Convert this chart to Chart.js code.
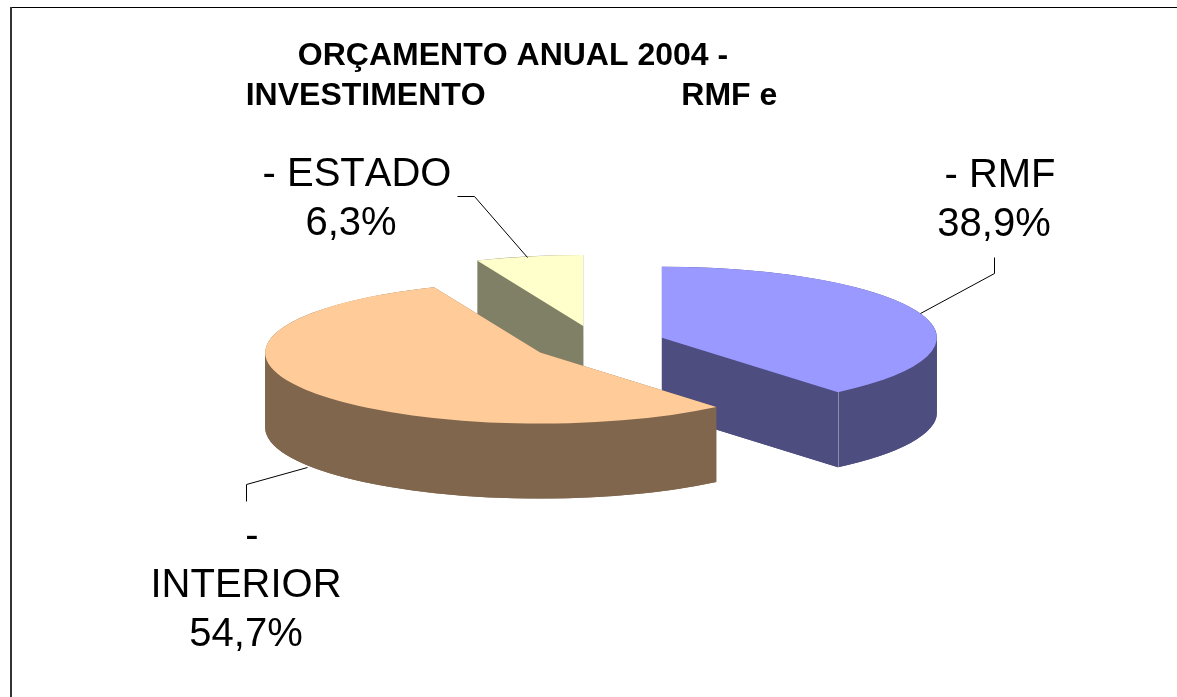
<!DOCTYPE html>
<html lang="pt">
<head>
<meta charset="utf-8">
<title>Orçamento anual 2004</title>
<style>html,body{margin:0;padding:0;background:#fff;overflow:hidden}canvas{display:block}</style>
<script src="https://cdn.jsdelivr.net/npm/chart.js@4/dist/chart.umd.min.js"></script>
</head>
<body>
<canvas id="c" width="1177" height="697"></canvas>
<script>
const titleLines = ['ORÇAMENTO ANUAL 2004 -', 'INVESTIMENTO                      RMF e'];
const categories = ['RMF', 'INTERIOR', 'ESTADO'];
const values = [38.9, 54.7, 6.3];
const topColors = ['#9999FF', '#FFCC99', '#FFFFCC'];
const wallColors = ['#4D4D80', '#80664D', '#808066'];

const SQUASH = 0.258, DEPTH = 75, CENTER_Y = 343.7;
const explode = [69, 66.5, 70];
const paintOrder = [2, 0, 1];
const seamEdges = ['endAngle', null, 'startAngle'];
const labelLayout = [
  [[1000, 187], [994, 236]],
  [[252, 548], [246, 597], [246, 646]],
  [[357, 186], [351, 235]]
];
const leaders = [
  [[994, 257], [994, 273], [920, 313]],
  [[246, 501], [246, 484], [307, 467]],
  [[457, 196], [474, 196], [527, 257]]
];
const pct = v => v.toFixed(1).replace('.', ',') + '%';
const labelLines = i => {
  const n = '- ' + categories[i];
  return labelLayout[i].length === 3 ? ['-', categories[i], pct(values[i])] : [n, pct(values[i])];
};

function drawWalls(c, x, y, R, a, b, color) {
  const r = R * SQUASH;
  c.fillStyle = color;
  c.beginPath();
  c.moveTo(x, y + DEPTH);
  c.ellipse(x, y + DEPTH, R, r, 0, a, b);
  c.closePath();
  c.fill();
  const stops = [a];
  for (let k = Math.ceil(a / Math.PI); k * Math.PI < b; k++) {
    if (k * Math.PI > a) stops.push(k * Math.PI);
  }
  stops.push(b);
  for (let s = 0; s < stops.length - 1; s++) {
    c.beginPath();
    c.ellipse(x, y, R, r, 0, stops[s], stops[s + 1]);
    c.ellipse(x, y + DEPTH, R, r, 0, stops[s + 1], stops[s], true);
    c.closePath();
    c.fill();
  }
  [a, b].forEach(t => {
    const ex = x + Math.cos(t) * R, ey = y + Math.sin(t) * r;
    c.beginPath();
    c.moveTo(x, y);
    c.lineTo(ex, ey);
    c.lineTo(ex, ey + DEPTH);
    c.lineTo(x, y + DEPTH);
    c.closePath();
    c.fill();
  });
}

const pie3d = {
  id: 'pie3d',
  beforeDraw(chart) {
    const c = chart.ctx;
    c.save();
    c.fillStyle = '#fff';
    c.fillRect(0, 0, chart.width, chart.height);
    c.fillStyle = '#000';
    c.fillRect(10, 7, chart.width - 10, 1);
    c.fillStyle = '#333';
    c.fillRect(10, 7, 2, chart.height - 7);
    c.restore();
  },
  beforeDatasetsDraw(chart) {
    const c = chart.ctx, arcs = chart.getDatasetMeta(0).data;
    const cy = arcs[0].y;
    paintOrder.forEach(i => {
      const arc = arcs[i];
      const mid = (arc.startAngle + arc.endAngle) / 2;
      const ox = Math.cos(mid) * explode[i];
      const oy = CENTER_Y + Math.sin(mid) * explode[i] * SQUASH;
      c.save();
      drawWalls(c, arc.x + ox, oy, arc.outerRadius, arc.startAngle, arc.endAngle, wallColors[i]);
      if (seamEdges[i]) {
        const a = arc[seamEdges[i]];
        const sx = Math.round(arc.x + ox + Math.cos(a) * arc.outerRadius) + .5;
        const sy = oy + Math.sin(a) * arc.outerRadius * SQUASH;
        c.strokeStyle = 'rgba(255,255,255,0.35)';
        c.lineWidth = 1;
        c.beginPath();
        c.moveTo(sx, sy);
        c.lineTo(sx, sy + DEPTH);
        c.stroke();
      }
      c.restore();
      c.save();
      c.translate(ox, oy);
      c.scale(1, SQUASH);
      c.translate(0, -cy);
      arc.draw(c);
      c.restore();
    });
    return false;
  },
  afterDraw(chart) {
    const c = chart.ctx;
    c.save();
    c.fontKerning = 'none';
    c.fillStyle = '#000';
    c.textAlign = 'center';
    c.textBaseline = 'alphabetic';
    c.font = 'bold 32px "Liberation Sans", Arial, sans-serif';
    c.fillText(titleLines[0], 513, 65);
    c.fillText(titleLines[1], 511.5, 105);
    c.font = '40px "Liberation Sans", Arial, sans-serif';
    categories.forEach((_, i) => {
      labelLines(i).forEach((t, j) => {
        const [x, y] = labelLayout[i][j];
        c.fillText(t, x, y);
      });
    });
    c.strokeStyle = '#000';
    c.lineWidth = 1;
    leaders.forEach(pts => {
      c.beginPath();
      pts.forEach(([x, y], k) => k ? c.lineTo(x + .5, y + .5) : c.moveTo(x + .5, y + .5));
      c.stroke();
    });
    c.restore();
  }
};

new Chart(document.getElementById('c'), {
  type: 'pie',
  data: {
    labels: categories,
    datasets: [{
      data: values,
      backgroundColor: topColors,
      borderWidth: 0
    }]
  },
  options: {
    responsive: false,
    animation: false,
    radius: 275,
    layout: { padding: { left: 17 } },
    plugins: { legend: { display: false }, tooltip: { enabled: false }, title: { display: false } }
  },
  plugins: [pie3d]
});
</script>
</body>
</html>
